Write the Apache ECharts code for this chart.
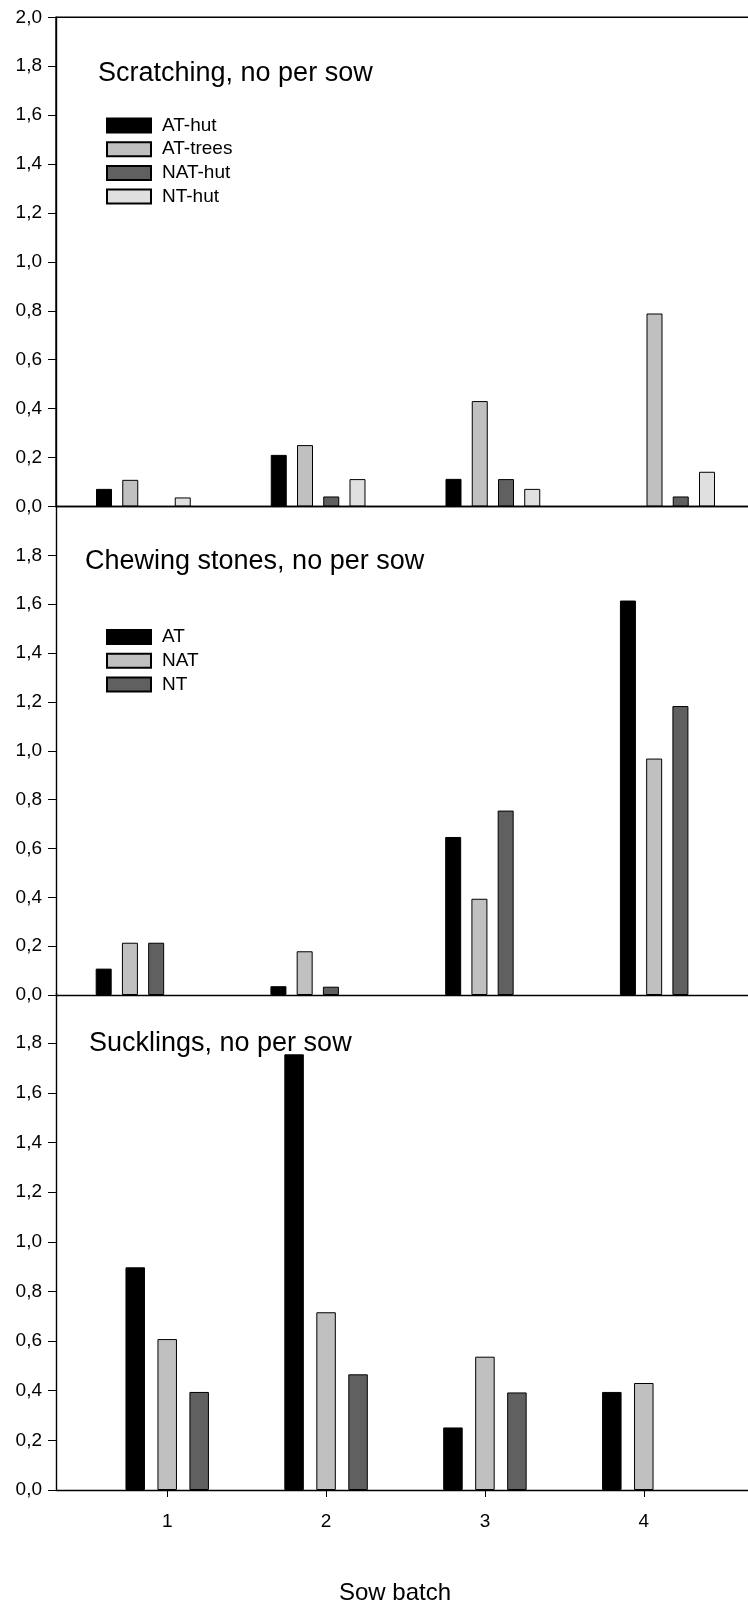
<!DOCTYPE html>
<html>
<head>
<meta charset="utf-8">
<script src="https://cdn.jsdelivr.net/npm/echarts@6/dist/echarts.min.js"></script>
<style>
html,body{margin:0;padding:0;background:#fff;}
#chart{width:748px;height:1602px;}
</style>
</head>
<body>
<div id="chart"></div>
<script>
// ---- data ----
const batches = [1, 2, 3, 4];
const xTickValues = [1, 2, 3, 4];

const scratchNames = ['AT-hut', 'AT-trees', 'NAT-hut', 'NT-hut'];
const scratchATHut   = [0.072, 0.211, 0.113, 0];
const scratchATTrees = [0.109, 0.251, 0.431, 0.789];
const scratchNATHut  = [0, 0.041, 0.112, 0.041];
const scratchNTHut   = [0.037, 0.112, 0.072, 0.142];

const groupNames = ['AT', 'NAT', 'NT'];
const chewAT  = [0.108, 0.036, 0.647, 1.615];
const chewNAT = [0.214, 0.179, 0.394, 0.968];
const chewNT  = [0.214, 0.034, 0.755, 1.183];

const suckAT  = [0.897, 1.755, 0.252, 0.395];
const suckNAT = [0.608, 0.716, 0.537, 0.431];
const suckNT  = [0.395, 0.466, 0.393, 0];

const panelTitles = ['Scratching, no per sow', 'Chewing stones, no per sow', 'Sucklings, no per sow'];
const xAxisTitle = 'Sow batch';

// ---- styles ----
const FONT = '"Liberation Sans", Arial, Helvetica, sans-serif';
const cBlack = '#000000', cLight = '#c0c0c0', cDark = '#606060', cPale = '#e0e0e0';

// zero values: keep the value, but draw no outline (an empty bar is invisible in the reference)
function pairs(vals) {
  return batches.map((b, i) => vals[i] === 0
    ? { value: [b, vals[i]], itemStyle: { borderWidth: 0, opacity: 0 } }
    : [b, vals[i]]);
}

function barSeries(name, vals, color, idx, width) {
  return {
    type: 'bar', name: name, data: pairs(vals),
    xAxisIndex: idx, yAxisIndex: idx, z: 2,
    barWidth: width, barGap: '64%',
    itemStyle: { color: color, borderColor: '#000', borderWidth: 1 },
    emphasis: { disabled: true }
  };
}

const axisLineStyle = { color: '#000', width: 1.4 };
function yAxis(idx, showMax) {
  return {
    type: 'value', gridIndex: idx, min: 0, max: 2, interval: 0.2,
    axisLine: { show: true, lineStyle: axisLineStyle },
    axisTick: { show: true, inside: false, length: 8, lineStyle: { color: '#000', width: 1 } },
    axisLabel: {
      show: true, margin: 14, fontSize: 19, color: '#000', fontFamily: FONT,
      showMaxLabel: showMax, showMinLabel: true,
      formatter: v => v.toFixed(1).replace('.', ',')
    },
    splitLine: { show: false }
  };
}
function plainX(idx, min, max) {
  return { type: 'value', gridIndex: idx, min: min, max: max, z: 10,
    axisLine: { show: true, onZero: false, lineStyle: axisLineStyle },
    axisTick: { show: false }, axisLabel: { show: false }, splitLine: { show: false } };
}
const titleStyle = { fontSize: 27, fontWeight: 'normal', color: '#000', fontFamily: FONT };
const legendText = { fontSize: 19, color: '#000', fontFamily: FONT, padding: [0, 0, 0, 6] };

const chart = echarts.init(document.getElementById('chart'), null, { renderer: 'canvas' });
chart.setOption({
  animation: false,
  backgroundColor: '#fff',
  title: [
    { text: panelTitles[0], left: 98, top: 60, padding: 0, textStyle: titleStyle },
    { text: panelTitles[1], left: 85, top: 548, padding: 0, textStyle: titleStyle },
    { text: panelTitles[2], left: 89, top: 1030, padding: 0, textStyle: titleStyle },
    { text: xAxisTitle, left: 395, top: 1581, padding: 0, textAlign: 'center',
      textStyle: { fontSize: 24, fontWeight: 'normal', color: '#000', fontFamily: FONT } }
  ],
  legend: [
    { data: scratchNames, orient: 'vertical', left: 106, top: 116, padding: 0,
      itemWidth: 44, itemHeight: 14, itemGap: 4.7, icon: 'rect',
      selectedMode: false, textStyle: legendText },
    { data: groupNames, orient: 'vertical', left: 106, top: 627.5, padding: 0,
      itemWidth: 44, itemHeight: 14, itemGap: 4.7, icon: 'rect',
      selectedMode: false, textStyle: legendText }
  ],
  grid: [
    { left: 56, width: 699, top: 17.3, height: 489.2, outerBoundsMode: 'none', containLabel: false,
      show: true, borderColor: '#000', borderWidth: 1.4, backgroundColor: 'transparent' },
    { left: 56, width: 699, top: 506.5, height: 488.5, outerBoundsMode: 'none', containLabel: false },
    { left: 56, width: 699, top: 993.5, height: 496.5, outerBoundsMode: 'none', containLabel: false }
  ],
  xAxis: [
    plainX(0, 0.5, 4.5),
    plainX(1, 0.577, 4.577),
    { type: 'value', gridIndex: 2, min: 0.3, max: 4.7, z: 10,
      axisLine: { show: true, onZero: false, lineStyle: axisLineStyle },
      axisTick: { show: true, length: 7, customValues: xTickValues, lineStyle: { color: '#000', width: 1 } },
      axisLabel: { show: true, customValues: xTickValues, margin: 22, fontSize: 19, color: '#000', fontFamily: FONT,
                   formatter: v => String(v) },
      splitLine: { show: false } }
  ],
  yAxis: [yAxis(0, true), yAxis(1, false), yAxis(2, false)],
  series: [
    barSeries(scratchNames[0], scratchATHut, cBlack, 0, 16),
    barSeries(scratchNames[1], scratchATTrees, cLight, 0, 16),
    barSeries(scratchNames[2], scratchNATHut, cDark, 0, 16),
    barSeries(scratchNames[3], scratchNTHut, cPale, 0, 16),
    barSeries(groupNames[0], chewAT, cBlack, 1, 16),
    barSeries(groupNames[1], chewNAT, cLight, 1, 16),
    barSeries(groupNames[2], chewNT, cDark, 1, 16),
    barSeries(groupNames[0], suckAT, cBlack, 2, 19.5),
    barSeries(groupNames[1], suckNAT, cLight, 2, 19.5),
    barSeries(groupNames[2], suckNT, cDark, 2, 19.5)
  ]
});
</script>
</body>
</html>
